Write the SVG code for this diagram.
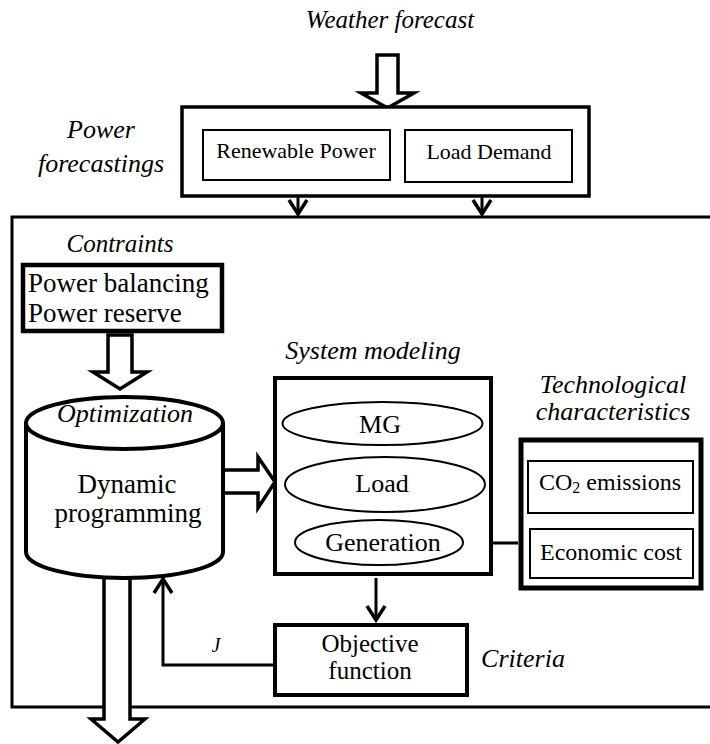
<svg xmlns="http://www.w3.org/2000/svg" width="710" height="744" viewBox="0 0 710 744">
  <style>
    text { font-family: "Liberation Serif", "Times New Roman", serif; fill: #000; }
    .it { font-style: italic; }
    .thin { fill: #fff; stroke: #000; stroke-width: 2; }
    .thick { fill: #fff; stroke: #000; stroke-width: 4; }
    .ell { fill: #fff; stroke: #000; stroke-width: 2; }
    .line { fill: none; stroke: #000; stroke-width: 3; }
    .hollow { fill: #fff; stroke: #000; stroke-width: 3.5; stroke-linejoin: miter; }
  </style>
  <defs>
    <marker id="vhead" markerUnits="userSpaceOnUse" markerWidth="30" markerHeight="30" viewBox="-15 -15 30 30" refX="0" refY="0" orient="auto" overflow="visible">
      <path d="M-14,-9 L0,0 L-14,9" fill="none" stroke="#000" stroke-width="3.5"/>
    </marker>
  </defs>

  <!-- outer frame (open on the right, broken by the output arrow) -->
  <path class="line" d="M710,217 L12,217 L12,707 L104,707 M130,707 L710,707"/>

  <!-- weather forecast input -->
  <g id="weather">
    <text class="it" x="390" y="28" font-size="25" text-anchor="middle">Weather forecast</text>
  </g>

  <g id="connectors">
    <!-- hollow arrows -->
    <polygon class="hollow" points="377,55 398,55 398,93 414,93 387.5,108 361,93 377,93"/>
    <polygon class="hollow" points="108,335 132,335 132,372 147,372 120,389 93,372 108,372"/>
    <polygon class="hollow" points="223,470 258,470 258,457 275,482 258,508 258,493 223,493"/>
    <path class="hollow" d="M104,570 L104,719 L91,719 L118,742 L145,719 L130,719 L130,570"/>
    <!-- forecasts into the main frame -->
    <line class="line" x1="298" y1="181" x2="298" y2="214" marker-end="url(#vhead)"/>
    <line class="line" x1="482" y1="183" x2="482" y2="214" marker-end="url(#vhead)"/>
    <!-- system modeling -> objective function -->
    <line class="line" x1="376" y1="578" x2="376" y2="620" marker-end="url(#vhead)"/>
    <!-- technological characteristics -> generation -->
    <line class="line" x1="518" y1="543" x2="465" y2="543" marker-end="url(#vhead)"/>
    <!-- feedback J -->
    <polyline class="line" points="273,665 163,665 163,579" marker-end="url(#vhead)"/>
    <text class="it" x="216" y="652" font-size="20" text-anchor="middle">J</text>
  </g>

  <g id="power-forecastings">
    <text class="it" x="101" y="138" font-size="26" text-anchor="middle">Power</text>
    <text class="it" x="101" y="172" font-size="26" text-anchor="middle">forecastings</text>
    <rect x="182" y="107" width="407" height="89" fill="#fff" stroke="#000" stroke-width="3.5"/>
  </g>

  <g id="renewable-power">
    <rect class="thin" x="203" y="130" width="187" height="50"/>
    <text x="296" y="158" font-size="22" text-anchor="middle">Renewable Power</text>
  </g>

  <g id="load-demand">
    <rect class="thin" x="405" y="130" width="167" height="52"/>
    <text x="489" y="159" font-size="22" text-anchor="middle">Load Demand</text>
  </g>

  <g id="constraints">
    <text class="it" x="120" y="252" font-size="25" text-anchor="middle">Contraints</text>
    <rect x="23" y="265" width="199" height="66" fill="#fff" stroke="#000" stroke-width="4.5"/>
    <text x="28" y="292" font-size="27">Power balancing</text>
    <text x="28" y="322" font-size="27">Power reserve</text>
  </g>

  <g id="optimization">
    <path d="M26,423 L26,552 A98.5,26 0 0 0 223,552 L223,423" fill="#fff" stroke="#000" stroke-width="4"/>
    <ellipse cx="124.5" cy="423" rx="98.5" ry="26" fill="#fff" stroke="#000" stroke-width="4"/>
    <text class="it" x="125" y="422" font-size="26" text-anchor="middle">Optimization</text>
    <text x="127" y="493" font-size="27" text-anchor="middle">Dynamic</text>
    <text x="128" y="522" font-size="27" text-anchor="middle">programming</text>
  </g>

  <g id="system-modeling">
    <text class="it" x="373" y="359" font-size="26" text-anchor="middle">System modeling</text>
    <rect class="thick" x="275" y="378" width="216" height="196"/>
  </g>

  <g id="mg">
    <ellipse class="ell" cx="382.5" cy="423.5" rx="100" ry="21.5"/>
    <text x="380" y="433" font-size="26" text-anchor="middle">MG</text>
  </g>

  <g id="load">
    <ellipse class="ell" cx="385" cy="484.5" rx="100" ry="27.5"/>
    <text x="382" y="492" font-size="26" text-anchor="middle">Load</text>
  </g>

  <g id="generation">
    <ellipse class="ell" cx="379" cy="542.5" rx="84" ry="22.5"/>
    <text x="383" y="551" font-size="26" text-anchor="middle">Generation</text>
  </g>

  <g id="technological-characteristics">
    <text class="it" x="613" y="393" font-size="26" text-anchor="middle">Technological</text>
    <text class="it" x="613" y="420" font-size="26" text-anchor="middle">characteristics</text>
    <rect x="521" y="440" width="180" height="148" fill="#fff" stroke="#000" stroke-width="5"/>
  </g>

  <g id="co2-emissions">
    <rect class="thin" x="528" y="461" width="165" height="52"/>
    <text x="610" y="490" font-size="24" text-anchor="middle">CO<tspan font-size="16" dy="3">2</tspan><tspan dy="-3"> emissions</tspan></text>
  </g>

  <g id="economic-cost">
    <rect class="thin" x="530" y="529" width="163" height="49"/>
    <text x="611" y="560" font-size="24" text-anchor="middle">Economic cost</text>
  </g>

  <g id="objective-function">
    <rect class="thick" x="275" y="625" width="192" height="70"/>
    <text x="370" y="652" font-size="25" text-anchor="middle">Objective</text>
    <text x="370" y="679" font-size="25" text-anchor="middle">function</text>
    <text class="it" x="523" y="667" font-size="26" text-anchor="middle">Criteria</text>
  </g>
</svg>
